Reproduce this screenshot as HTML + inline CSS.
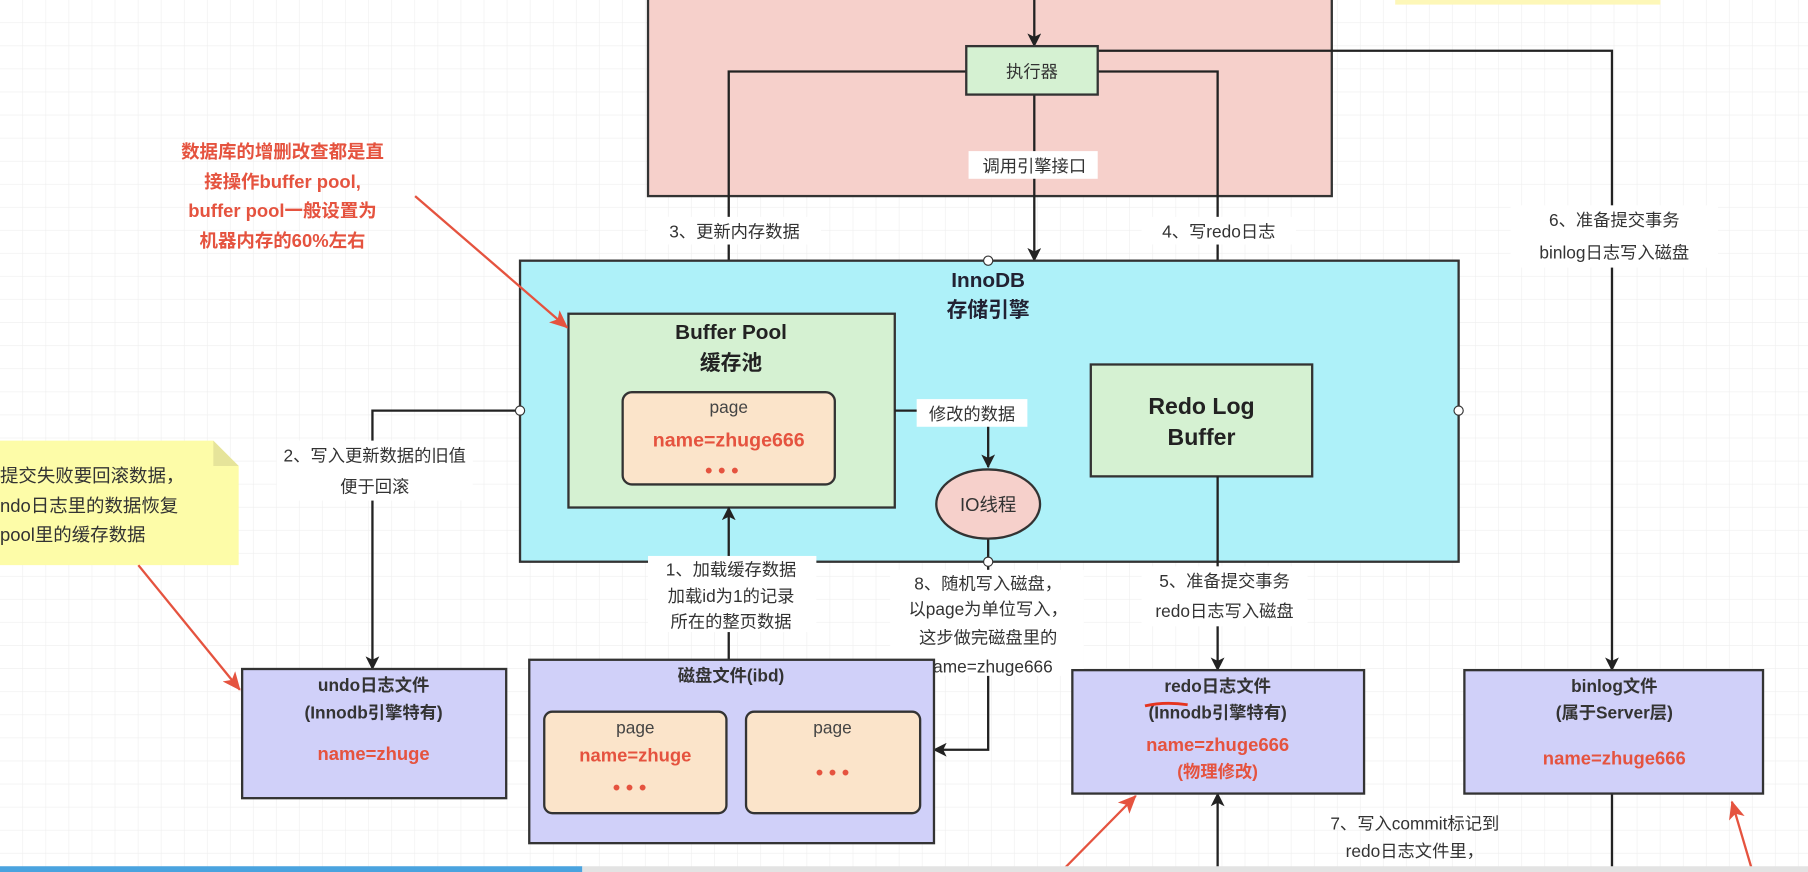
<!DOCTYPE html>
<html><head><meta charset="utf-8"><style>
html,body{margin:0;padding:0;background:#fff;overflow:hidden}
svg{display:block}
text{font-family:"Liberation Sans","Noto Sans CJK SC",sans-serif;}
</style></head><body>
<svg width="1808" height="872" viewBox="0 0 1568 756" preserveAspectRatio="none" xmlns="http://www.w3.org/2000/svg">
<defs>
<pattern id="g" width="20" height="20" patternUnits="userSpaceOnUse"><path d="M20 0V20H0" fill="none" stroke="#eeeeee" stroke-width="1"/></pattern>
<marker id="a" markerWidth="12" markerHeight="12" refX="11" refY="6" orient="auto" markerUnits="userSpaceOnUse"><path d="M0,0 L12,6 L0,12 L3,6z" fill="#222"/></marker>
<marker id="r" markerWidth="16" markerHeight="14" refX="15" refY="7" orient="auto" markerUnits="userSpaceOnUse"><path d="M0,0 L16,7 L0,14 L4,7z" fill="#e5533f"/></marker>
</defs>
<rect width="1568" height="756" fill="#fff"/>
<rect width="1568" height="756" fill="url(#g)"/>
<rect x="1210" y="-2" width="230" height="6" fill="#fdf7b8"/>
<rect x="562" y="-5" width="593" height="175" fill="#f6d0cb" stroke="#333" stroke-width="2"/>
<g stroke="#222" stroke-width="2" fill="none">
<path d="M897 0V40" marker-end="url(#a)"/>
<path d="M838 62H632V272" marker-end="url(#a)"/>
<path d="M952 62H1056V315" marker-end="url(#a)"/>
<path d="M897 82V226" marker-end="url(#a)"/>
<path d="M952 44H1398V581" marker-end="url(#a)"/>
</g>
<rect x="451" y="226" width="814" height="261" fill="#aef1f9" stroke="#333" stroke-width="2"/>
<text x="857" y="249" font-size="18" font-weight="bold" fill="#223" text-anchor="middle">InnoDB</text>
<text x="857" y="275" font-size="18" font-weight="bold" fill="#223" text-anchor="middle">存储引擎</text>
<rect x="493" y="272" width="283" height="168" fill="#d5f1d2" stroke="#333" stroke-width="2"/>
<text x="634" y="294" font-size="18" font-weight="bold" fill="#222" text-anchor="middle">Buffer Pool</text>
<text x="634" y="321" font-size="18" font-weight="bold" fill="#222" text-anchor="middle">缓存池</text>
<rect x="540" y="340" width="184" height="80" rx="8" fill="#fbe4ca" stroke="#333" stroke-width="2"/>
<text x="632" y="358" font-size="15" fill="#444" text-anchor="middle">page</text>
<text x="632" y="387" font-size="17" font-weight="bold" fill="#e5533f" text-anchor="middle">name=zhuge666</text>
<text x="626" y="414" font-size="18" font-weight="bold" fill="#e5533f" text-anchor="middle">• • •</text>
<rect x="946" y="316" width="192" height="97" fill="#d5f1d2" stroke="#333" stroke-width="2"/>
<text x="1042" y="359" font-size="20" font-weight="bold" fill="#222" text-anchor="middle">Redo Log</text>
<text x="1042" y="386" font-size="20" font-weight="bold" fill="#222" text-anchor="middle">Buffer</text>
<g stroke="#222" stroke-width="2" fill="none">
<path d="M776 356H857V405" marker-end="url(#a)"/>
<path d="M857 467V650H810" marker-end="url(#a)"/>
<path d="M1056 413V581" marker-end="url(#a)"/>
<path d="M451 356H323V580" marker-end="url(#a)"/>
<path d="M632 572V440" marker-end="url(#a)"/>
<path d="M1056 756V688" marker-end="url(#a)"/>
<path d="M1398 688V756"/>
</g>
<ellipse cx="857" cy="437" rx="45" ry="30" fill="#f6d0cb" stroke="#333" stroke-width="2"/>
<text x="857" y="443" font-size="16" fill="#333" text-anchor="middle">IO线程</text>
<g fill="#fff" stroke="#333" stroke-width="1"><circle cx="857" cy="226" r="4"/><circle cx="451" cy="356" r="4"/><circle cx="1265" cy="356" r="4"/><circle cx="857" cy="487" r="4"/></g>
<rect x="838" y="40" width="114" height="42" fill="#d5f1d2" stroke="#333" stroke-width="2"/>
<text x="895" y="67" font-size="15" fill="#333" text-anchor="middle">执行器</text>
<g font-size="15" fill="#333" text-anchor="middle">
<rect x="840" y="131" width="112" height="24" fill="#fff"/>
<text x="897" y="149">调用引擎接口</text>
<rect x="562" y="188" width="150" height="24" fill="#fff"/>
<text x="637" y="206">3、更新内存数据</text>
<rect x="990" y="188" width="134" height="24" fill="#fff"/>
<text x="1057" y="206">4、写redo日志</text>
<rect x="1310" y="178" width="180" height="54" fill="#fff"/>
<text x="1400" y="196">6、准备提交事务</text>
<text x="1400" y="224">binlog日志写入磁盘</text>
<rect x="795" y="346" width="96" height="24" fill="#fff"/>
<text x="843" y="364">修改的数据</text>
<rect x="240" y="382" width="170" height="52" fill="#fff"/>
<text x="325" y="400">2、写入更新数据的旧值</text>
<text x="325" y="427">便于回滚</text>
<rect x="562" y="482" width="146" height="66" fill="#fff"/>
<text x="634" y="499">1、加载缓存数据</text>
<text x="634" y="522">加载id为1的记录</text>
<text x="634" y="544">所在的整页数据</text>
<rect x="772" y="494" width="168" height="92" fill="#fff"/>
<text x="857" y="511">8、随机写入磁盘，</text>
<text x="857" y="533">以page为单位写入，</text>
<text x="857" y="558">这步做完磁盘里的</text>
<text x="857" y="583">name=zhuge666</text>
<rect x="990" y="491" width="144" height="52" fill="#fff"/>
<text x="1062" y="509">5、准备提交事务</text>
<text x="1062" y="535">redo日志写入磁盘</text>
<text x="1227" y="719">7、写入commit标记到</text>
<text x="1227" y="743">redo日志文件里，</text>
<text x="1227" y="766">提交事务完成，该标记</text>
</g>
<rect x="210" y="580" width="229" height="112" fill="#d0d0f9" stroke="#333" stroke-width="2"/>
<g font-size="15" font-weight="bold" text-anchor="middle">
<text x="324" y="599" fill="#333">undo日志文件</text>
<text x="324" y="623" fill="#333">(Innodb引擎特有)</text>
<text x="324" y="659" fill="#e5533f" font-size="16">name=zhuge</text>
</g>
<rect x="459" y="572" width="351" height="159" fill="#d0d0f9" stroke="#333" stroke-width="2"/>
<text x="634" y="591" font-size="15" font-weight="bold" fill="#333" text-anchor="middle">磁盘文件(ibd)</text>
<rect x="472" y="617" width="158" height="88" rx="7" fill="#fbe4ca" stroke="#333" stroke-width="2"/>
<rect x="647" y="617" width="151" height="88" rx="7" fill="#fbe4ca" stroke="#333" stroke-width="2"/>
<text x="551" y="636" font-size="15" fill="#444" text-anchor="middle">page</text>
<text x="551" y="660" font-size="16" font-weight="bold" fill="#e5533f" text-anchor="middle">name=zhuge</text>
<text x="546" y="689" font-size="18" font-weight="bold" fill="#e5533f" text-anchor="middle">• • •</text>
<text x="722" y="636" font-size="15" fill="#444" text-anchor="middle">page</text>
<text x="722" y="676" font-size="18" font-weight="bold" fill="#e5533f" text-anchor="middle">• • •</text>
<rect x="930" y="581" width="253" height="107" fill="#d0d0f9" stroke="#333" stroke-width="2"/>
<g font-size="15" font-weight="bold" text-anchor="middle">
<text x="1056" y="600" fill="#333">redo日志文件</text>
<text x="1056" y="623" fill="#333">(Innodb引擎特有)</text>
<text x="1056" y="651" fill="#e5533f" font-size="16">name=zhuge666</text>
<text x="1056" y="674" fill="#e5533f">(物理修改)</text>
</g>
<path d="M993 612 Q1010 608 1030 611" stroke="#e5331f" stroke-width="2.5" fill="none"/>
<rect x="1270" y="581" width="259" height="107" fill="#d0d0f9" stroke="#333" stroke-width="2"/>
<g font-size="15" font-weight="bold" text-anchor="middle">
<text x="1400" y="600" fill="#333">binlog文件</text>
<text x="1400" y="623" fill="#333">(属于Server层)</text>
<text x="1400" y="663" fill="#e5533f" font-size="16">name=zhuge666</text>
</g>
<g font-size="16" font-weight="bold" fill="#e5533f" text-anchor="middle">
<text x="245" y="137">数据库的增删改查都是直</text>
<text x="245" y="163">接操作buffer pool,</text>
<text x="245" y="188">buffer pool一般设置为</text>
<text x="245" y="214">机器内存的60%左右</text>
</g>
<path d="M-5 382H185L207 404V490H-5Z" fill="#fdfca8"/>
<path d="M185 382V404H207Z" fill="#e6e49a"/>
<g font-size="16" fill="#333">
<text x="0" y="418">提交失败要回滚数据，</text>
<text x="0" y="444">ndo日志里的数据恢复</text>
<text x="0" y="469"> pool里的缓存数据</text>
</g>
<g stroke="#e5533f" stroke-width="2" fill="none">
<path d="M360 170L492 284" marker-end="url(#r)"/>
<path d="M120 490L208 598" marker-end="url(#r)"/>
<path d="M920 756L985 690" marker-end="url(#r)"/>
<path d="M1520 756L1502 695" marker-end="url(#r)"/>
</g>
<rect x="0" y="751" width="505" height="6" fill="#4aa3df"/>
<rect x="505" y="751" width="1063" height="6" fill="#e3e3e3"/>
</svg>
</body></html>
